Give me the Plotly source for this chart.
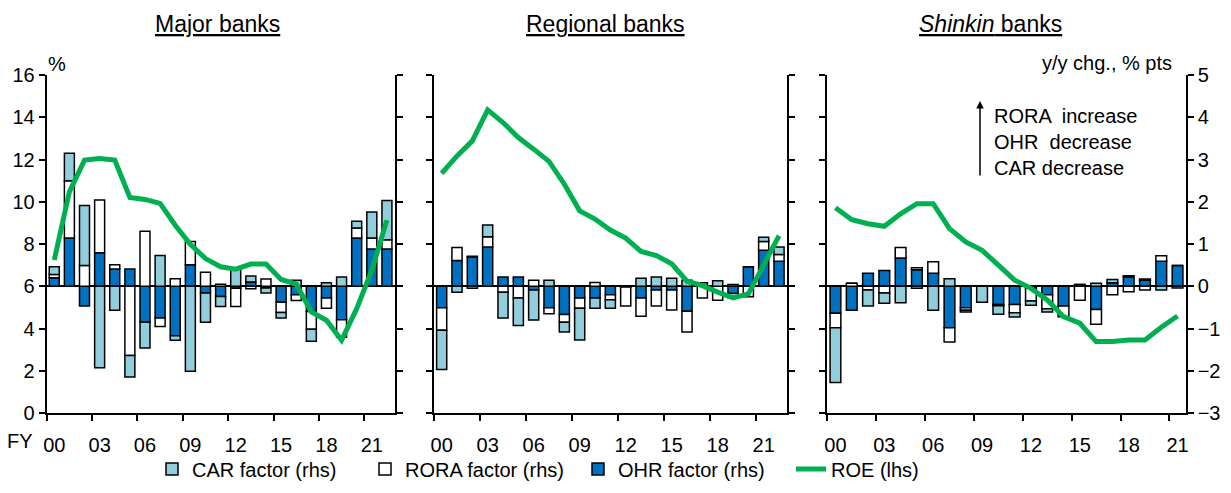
import plotly.graph_objects as go

# fiscal years (index 0 = FY2000)
years = list(range(23))
years_shinkin = list(range(22))
tick_pos = [0, 3, 6, 9, 12, 15, 18, 21]
tick_text = ["00", "03", "06", "09", "12", "15", "18", "21"]

# Major banks, y/y chg. % pts (rhs) and ROE % (lhs)
major_ohr = [0.20, 1.14, -0.47, 0.79, 0.41, 0.41, -0.85, -0.75, -1.17, 0.51, -0.16, -0.24,
             -0.05, 0.10, -0.04, -0.38, -0.20, -0.60, -0.28, -0.79, 1.14, 0.88, 0.88]
major_rora = [0.08, 1.36, 0.49, 1.25, 0.10, -1.64, 1.30, -0.20, 0.18, 0.55, 0.33, 0.05,
              -0.43, -0.06, 0.17, -0.24, -0.14, -0.42, -0.24, -0.42, 0.24, 0.26, 0.22]
major_car = [0.18, 0.65, 1.42, -1.93, -0.57, -0.51, -0.61, 0.73, -0.11, -2.01, -0.69, -0.24,
             0.41, 0.14, -0.12, -0.13, 0.14, -0.28, 0.08, 0.22, 0.16, 0.62, 0.93]
major_roe = [7.24, 10.47, 11.97, 12.05, 11.97, 10.20, 10.11, 9.92, 8.89, 7.99, 7.31, 6.92,
             6.81, 7.05, 7.05, 6.32, 6.10, 4.79, 4.39, 3.44, 4.94, 6.76, 9.13]

# Regional banks
regional_ohr = [-0.51, 0.61, 0.69, 0.93, 0.22, 0.22, -0.09, -0.51, -0.67, -0.28, -0.28, -0.20,
                -0.02, -0.28, -0.09, -0.09, -0.59, 0.00, 0.00, -0.17, 0.46, 0.85, 0.59]
regional_rora = [-0.53, 0.31, 0.02, 0.24, -0.14, -0.28, 0.14, -0.14, -0.18, -0.24, 0.09, -0.12,
                 -0.45, -0.43, -0.38, -0.47, -0.49, -0.28, -0.33, -0.10, -0.25, 0.21, 0.16]
regional_car = [-0.93, -0.14, -0.05, 0.28, -0.61, -0.65, -0.71, 0.14, -0.23, -0.75, -0.24, -0.20,
                0.00, 0.19, 0.22, 0.19, 0.14, 0.08, 0.13, 0.04, 0.00, 0.10, 0.18]
regional_roe = [11.34, 12.17, 12.88, 14.35, 13.75, 13.04, 12.49, 11.91, 10.83, 9.57, 9.18, 8.66,
                8.28, 7.65, 7.45, 7.06, 6.24, 6.03, 5.72, 5.45, 5.64, 7.02, 8.39]

# Shinkin banks
shinkin_ohr = [-0.64, -0.57, 0.31, 0.37, 0.67, 0.39, 0.31, -0.98, -0.51, 0.00, -0.43, -0.43,
               -0.05, -0.20, -0.47, 0.04, -0.55, 0.08, 0.22, 0.14, 0.59, 0.49]
shinkin_rora = [-0.34, 0.07, -0.09, -0.16, 0.25, 0.05, 0.27, -0.34, -0.06, 0.00, -0.03, -0.20,
                -0.30, -0.33, -0.25, -0.33, -0.35, -0.20, -0.13, -0.09, 0.13, 0.00]
shinkin_car = [-1.30, 0.00, -0.38, -0.24, -0.39, -0.05, -0.57, 0.18, -0.04, -0.38, -0.20, -0.10,
               -0.10, -0.08, 0.00, 0.00, 0.07, 0.08, 0.03, 0.03, -0.09, -0.04]
shinkin_roe = [9.72, 9.15, 8.96, 8.84, 9.43, 9.91, 9.91, 8.73, 8.10, 7.70, 7.00, 6.29,
               5.90, 5.35, 4.56, 4.25, 3.38, 3.38, 3.46, 3.46, 4.06, 4.59]

C_CAR = "#92CDDC"
C_RORA = "#FFFFFF"
C_OHR = "#0070C0"
C_ROE = "#00B050"
FONT = "Liberation Sans, Arial, sans-serif"
FS = 20

# the page body has an 8px margin, so the figure is a bit smaller than the window
PAD = 8
W, H = 1231 - 2 * PAD, 493 - 2 * PAD
def px_x(p):
    return (p - PAD) / W
def px_y(p):
    return (H - (p - PAD)) / H

panels = [
    (years, major_car, major_rora, major_ohr, major_roe, (46.7, 394.5)),
    (years, regional_car, regional_rora, regional_ohr, regional_roe, (434, 786.7)),
    (years_shinkin, shinkin_car, shinkin_rora, shinkin_ohr, shinkin_roe, (827.3, 1185.7)),
]

fig = go.Figure()
layout = {}
ydom = [px_y(413), px_y(75)]

for i, (x, car, rora, ohr, roe, (x0, x1)) in enumerate(panels):
    n = i + 1
    xa = "x" if n == 1 else f"x{n}"
    ya_bar = "y" if n == 1 else f"y{2 * n - 1}"
    ya_line = f"y{2 * n}"
    first = n == 1
    # stacking order from zero: OHR, RORA, CAR
    fig.add_trace(go.Bar(x=x, y=ohr, name="OHR factor (rhs)", marker_color=C_OHR,
                         marker_line=dict(color="black", width=1.5), xaxis=xa, yaxis=ya_bar,
                         legendrank=3, showlegend=first, legendgroup="ohr"))
    fig.add_trace(go.Bar(x=x, y=rora, name="RORA factor (rhs)", marker_color=C_RORA,
                         marker_line=dict(color="black", width=1.5), xaxis=xa, yaxis=ya_bar,
                         legendrank=2, showlegend=first, legendgroup="rora"))
    fig.add_trace(go.Bar(x=x, y=car, name="CAR factor (rhs)", marker_color=C_CAR,
                         marker_line=dict(color="black", width=1.5), xaxis=xa, yaxis=ya_bar,
                         legendrank=1, showlegend=first, legendgroup="car"))
    fig.add_trace(go.Scatter(x=x, y=roe, name="ROE (lhs)", mode="lines",
                             line=dict(color=C_ROE, width=5), xaxis=xa, yaxis=ya_line,
                             legendrank=4, showlegend=first, legendgroup="roe"))

    nmax = len(x) - 0.5
    bounds = [v - 0.5 for v in tick_pos]
    layout["xaxis" if n == 1 else f"xaxis{n}"] = dict(
        domain=[px_x(x0), px_x(x1)], anchor=ya_bar, range=[-0.5, nmax], automargin=False,
        tickmode="array", tickvals=tick_pos, ticktext=tick_text,
        ticks="outside", ticklen=13, tickcolor="rgba(0,0,0,0)",
        minor=dict(tickmode="array", tickvals=bounds, ticks="outside", ticklen=6,
                   tickwidth=2, tickcolor="black"),
        showline=True, linecolor="black", linewidth=2, showgrid=False, zeroline=False,
        tickfont=dict(size=FS, color="black"),
    )
    layout["yaxis" if n == 1 else f"yaxis{2 * n - 1}"] = dict(
        domain=ydom, anchor=xa, side="right", range=[-3, 5], dtick=1, automargin=False,
        showline=True, linecolor="black", linewidth=2, ticks="outside", ticklen=6,
        tickwidth=2, tickcolor="black", showgrid=False,
        zeroline=True, zerolinecolor="black", zerolinewidth=2,
        showticklabels=(n == 3), tickfont=dict(size=FS, color="black"),
    )
    layout[f"yaxis{2 * n}"] = dict(
        domain=ydom, anchor=xa, overlaying=ya_bar, side="left", range=[0, 16], dtick=2,
        automargin=False,
        showline=True, linecolor="black", linewidth=2, ticks="outside", ticklen=6,
        tickwidth=2, tickcolor="black", showgrid=False, zeroline=False,
        showticklabels=(n == 1), tickfont=dict(size=FS, color="black"),
    )

annotations = [
    dict(text="<u>Major banks</u>", x=px_x(217), y=px_y(24)),
    dict(text="<u>Regional banks</u>", x=px_x(605), y=px_y(24)),
    dict(text="<u><i>Shinkin</i> banks</u>", x=px_x(990), y=px_y(24)),
]
for a in annotations:
    a.update(xref="paper", yref="paper", showarrow=False, xanchor="center", yanchor="middle",
             font=dict(size=23, color="black"))

annotations += [
    dict(text="%", x=px_x(46), y=px_y(64), xanchor="left", yanchor="middle",
         xref="paper", yref="paper", showarrow=False, font=dict(size=FS, color="black")),
    dict(text="y/y chg., % pts", x=px_x(1174), y=px_y(63), xanchor="right", yanchor="middle",
         xref="paper", yref="paper", showarrow=False, font=dict(size=FS, color="black")),
    dict(text="FY", x=px_x(20), y=px_y(441), xanchor="center", yanchor="middle",
         xref="paper", yref="paper", showarrow=False, font=dict(size=FS, color="black")),
    dict(text="RORA  increase<br>OHR  decrease<br>CAR decrease", x=px_x(992), y=px_y(103),
         xanchor="left", yanchor="top", align="left", xref="paper", yref="paper",
         showarrow=False, font=dict(size=FS, color="black")),
    dict(text="", x=px_x(980), y=px_y(101), ax=0, ay=76, xref="paper", yref="paper",
         showarrow=True, arrowhead=2, arrowsize=1, arrowwidth=1.5, arrowcolor="black"),
]

fig.update_layout(
    **layout,
    annotations=annotations,
    barmode="relative",
    bargap=0.34,
    width=W, height=H,
    margin=dict(l=0, r=0, t=0, b=0, autoexpand=False),
    paper_bgcolor="white", plot_bgcolor="white",
    font=dict(family=FONT, size=FS, color="black"),
    legend=dict(orientation="h", x=px_x(152), y=px_y(469), xanchor="left", yanchor="middle",
                entrywidth=168, font=dict(size=FS), traceorder="normal",
                bgcolor="rgba(0,0,0,0)"),
)

fig.write_html("out.html")
